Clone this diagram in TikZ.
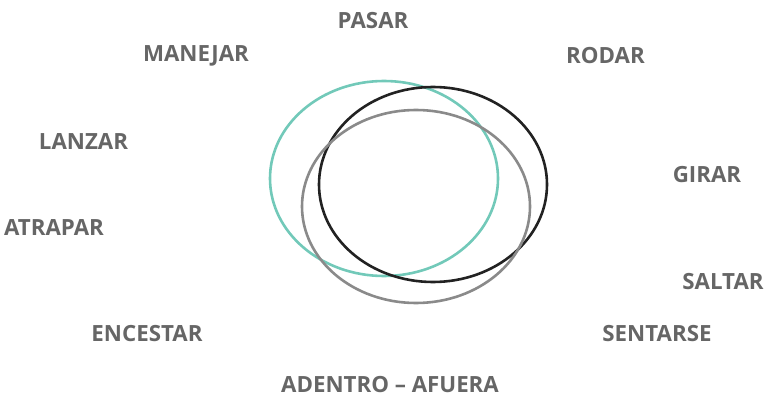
\documentclass[tikz,border=0pt]{standalone}
\usepackage{fontspec}
\setmainfont{Open Sans}
\usepackage{xcolor}
\usepackage{tikz}
\usetikzlibrary{positioning}
\definecolor{labelgray}{HTML}{666666}
\definecolor{ringteal}{HTML}{72C9B9}
\definecolor{ringblack}{HTML}{222222}
\definecolor{ringgray}{HTML}{8A8A8A}

\begin{document}
\begin{tikzpicture}[
  x=1pt, y=-1pt,
  every node/.style={font=\fontsize{22.3}{26}\selectfont\bfseries, text=labelgray, inner sep=0pt},
  verb/.style={anchor=center},
  ring/.style={line width=2.6pt},
]
\useasboundingbox (0,0) rectangle (765,398);
% the three rings
\draw[ring, ringteal]  (384,178.5) ellipse [x radius=114pt, y radius=97.5pt];
\draw[ring, ringblack] (433,184.5) ellipse [x radius=114pt, y radius=97.5pt];
\draw[ring, ringgray]  (416,206.5) ellipse [x radius=114pt, y radius=96.5pt];
% the verbs round them
\node[verb] (pasar)    at (373,20.5) {PASAR};
\node[verb] (manejar)  at (196,55.5) {MANEJAR};
\node[verb] (rodar)    at (605.5,55.5) {RODAR};
\node[verb] (lanzar)   at (83.5,142) {LANZAR};
\node[verb] (girar)    at (707,175) {GIRAR};
\node[verb] (atrapar)  at (54,228) {ATRAPAR};
\node[verb] (saltar)   at (723,282) {SALTAR};
\node[verb] (encestar) at (147,334) {ENCESTAR};
\node[verb] (sentarse) at (657,334) {SENTARSE};
\node[verb] (adentro)  at (390,385) {ADENTRO – AFUERA};
\end{tikzpicture}
\end{document}
